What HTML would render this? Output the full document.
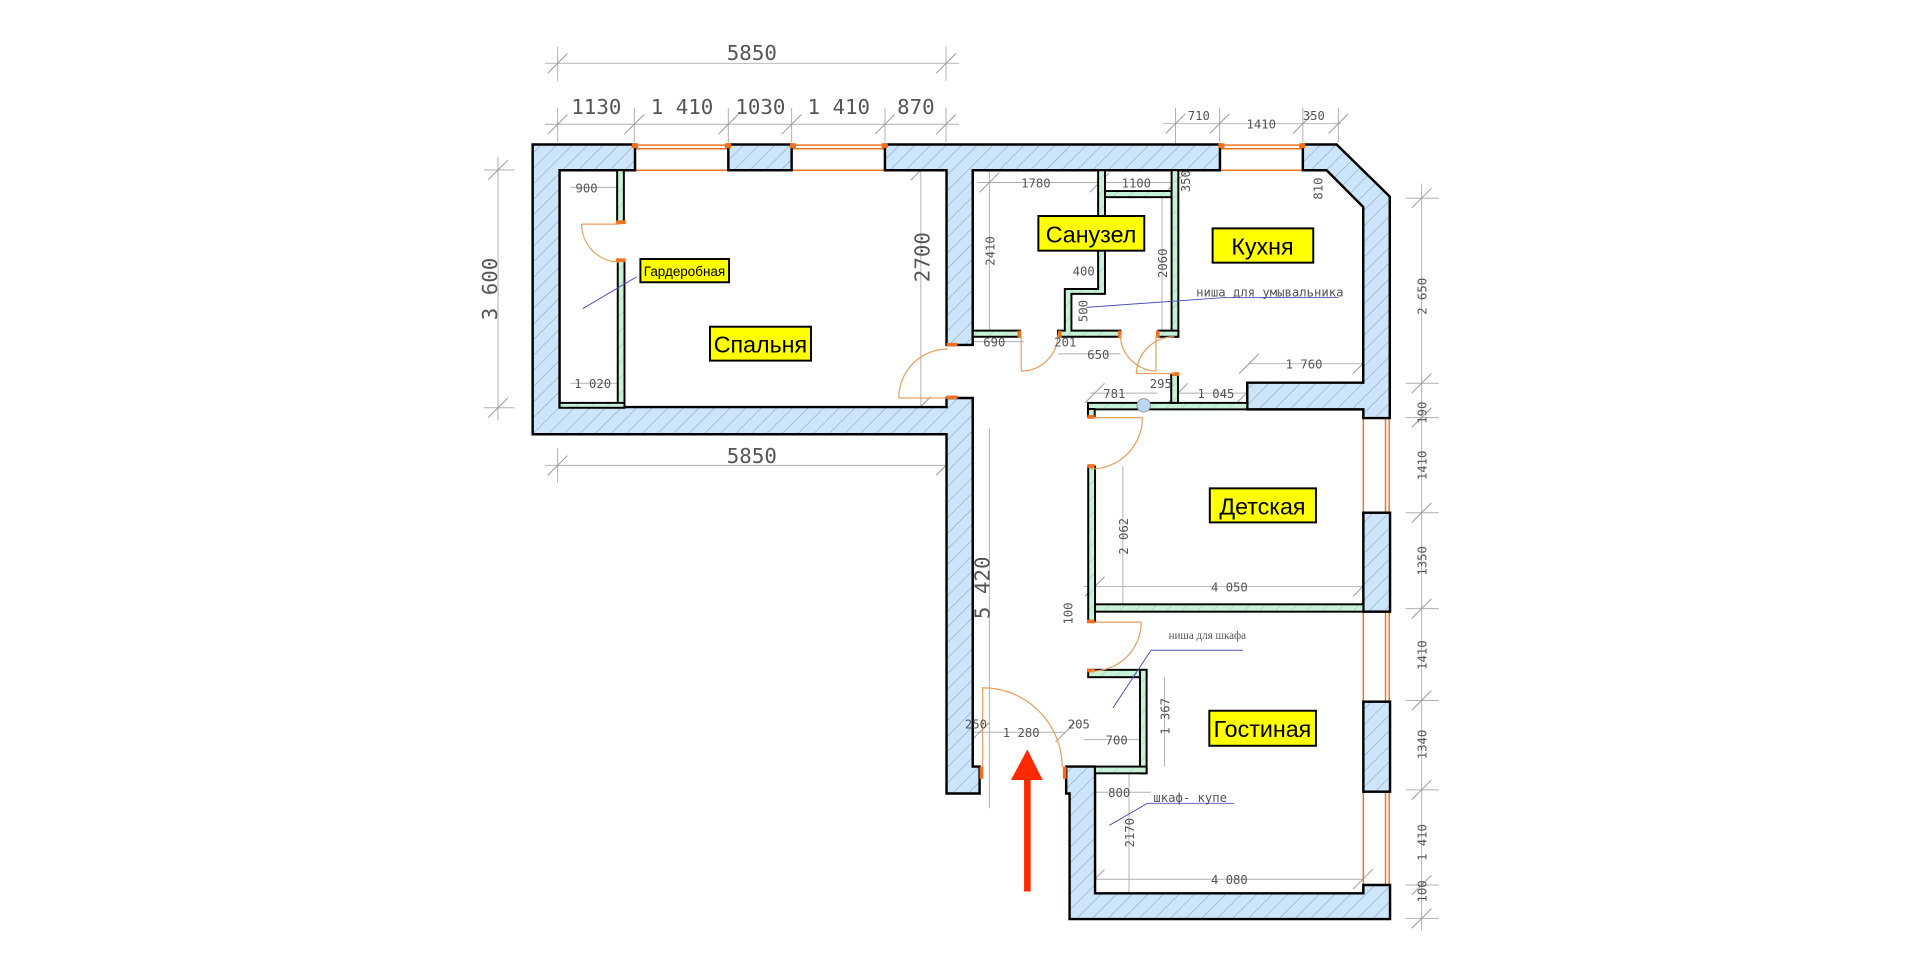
<!DOCTYPE html>
<html><head><meta charset="utf-8"><style>
html,body{margin:0;padding:0;background:#fff;width:1920px;height:963px;overflow:hidden}
svg{display:block}
.d{font-family:"DejaVu Sans Mono","Liberation Mono",monospace;fill:#555;font-size:10px}
.D{font-family:"DejaVu Sans Mono","Liberation Mono",monospace;fill:#555;font-size:17px}
.L{font-family:"Liberation Sans","DejaVu Sans",sans-serif;fill:#000}
.w{fill:url(#h);stroke:#000;stroke-width:2}
.g{fill:url(#hg);stroke:#000;stroke-width:1.6}
.o{stroke:#f07020;fill:none;stroke-width:1.2}
.a{stroke:#e8a060;fill:none;stroke-width:1}
.dl{stroke:#b0b0b0;stroke-width:0.8;fill:none}
.lb{fill:#ffff00;stroke:#000;stroke-width:1.6}
.ld{stroke:#5050c0;stroke-width:0.8;fill:none}
</style></head><body>
<svg width="1920" height="963" viewBox="0 0 1568 786.4" preserveAspectRatio="none" xmlns="http://www.w3.org/2000/svg">
<defs>
<pattern id="h" patternUnits="userSpaceOnUse" width="9" height="9" patternTransform="rotate(45)">
<rect width="9" height="9" fill="#cde5fa"/><line x1="0" y1="0" x2="0" y2="9" stroke="#7a93a8" stroke-width="0.7"/></pattern>
<pattern id="hg" patternUnits="userSpaceOnUse" width="9" height="9" patternTransform="rotate(45)">
<rect width="9" height="9" fill="#c8f2d8"/><line x1="0" y1="0" x2="0" y2="9" stroke="#8ab09a" stroke-width="0.5"/></pattern>
<path id="t" d="M-8,8 L8,-8" stroke="#999" stroke-width="0.8"/>
</defs>

<g class="dl">
<line x1="445" y1="51.7" x2="783" y2="51.7"/><line x1="455.4" y1="38" x2="455.4" y2="66"/><line x1="772.6" y1="38" x2="772.6" y2="66"/>
<line x1="445" y1="101.5" x2="783" y2="101.5"/>
<line x1="455.4" y1="88" x2="455.4" y2="116"/><line x1="518" y1="88" x2="518" y2="116"/><line x1="594.8" y1="88" x2="594.8" y2="116"/><line x1="646.5" y1="88" x2="646.5" y2="116"/><line x1="722.7" y1="88" x2="722.7" y2="116"/><line x1="772.6" y1="88" x2="772.6" y2="116"/>
<line x1="406.7" y1="128" x2="406.7" y2="343"/><line x1="395" y1="138.8" x2="420" y2="138.8"/><line x1="395" y1="333" x2="420" y2="333"/>
<line x1="445" y1="380" x2="783" y2="380"/><line x1="455.4" y1="366" x2="455.4" y2="394"/><line x1="772.6" y1="366" x2="772.6" y2="394"/>
<line x1="752" y1="128" x2="752" y2="343"/><line x1="740" y1="139" x2="765" y2="139"/><line x1="740" y1="332" x2="765" y2="332"/>
<line x1="808" y1="350" x2="808" y2="660"/>
<line x1="950" y1="101" x2="1095" y2="101"/><line x1="960" y1="88" x2="960" y2="140"/><line x1="996" y1="88" x2="996" y2="116"/><line x1="1064" y1="88" x2="1064" y2="116"/><line x1="1093" y1="88" x2="1093" y2="116"/>
<line x1="1161" y1="150" x2="1161" y2="760"/>
<line x1="1148" y1="161.8" x2="1175" y2="161.8"/><line x1="1148" y1="313" x2="1175" y2="313"/><line x1="1148" y1="341" x2="1175" y2="341"/><line x1="1148" y1="418.7" x2="1175" y2="418.7"/><line x1="1148" y1="497" x2="1175" y2="497"/><line x1="1148" y1="572" x2="1175" y2="572"/><line x1="1148" y1="645" x2="1175" y2="645"/><line x1="1148" y1="722.7" x2="1175" y2="722.7"/><line x1="1148" y1="750" x2="1175" y2="750"/>
<line x1="466" y1="153" x2="510" y2="153"/><line x1="466" y1="313" x2="510" y2="313"/>
<line x1="798" y1="149" x2="898" y2="149"/><line x1="902" y1="149" x2="960" y2="149"/>
<line x1="808" y1="139" x2="808" y2="275"/><line x1="949" y1="161" x2="949" y2="270"/>
<line x1="795" y1="279" x2="836" y2="279"/><line x1="864" y1="289" x2="915" y2="289"/>
<line x1="890" y1="321" x2="945" y2="321"/><line x1="962" y1="321" x2="1018" y2="321"/>
<line x1="1020" y1="297" x2="1113" y2="297"/>
<line x1="917" y1="381" x2="917" y2="497"/><line x1="885" y1="479" x2="1113" y2="479"/>
<line x1="951" y1="553" x2="951" y2="626"/><line x1="785" y1="598" x2="870" y2="598"/><line x1="885" y1="604" x2="935" y2="604"/>
<line x1="885" y1="647" x2="940" y2="647"/><line x1="922" y1="630" x2="922" y2="730"/><line x1="885" y1="718" x2="1113" y2="718"/>
</g>
<g>
<use href="#t" x="455.4" y="51.7"/><use href="#t" x="772.6" y="51.7"/>
<use href="#t" x="455.4" y="101.5"/><use href="#t" x="518" y="101.5"/><use href="#t" x="594.8" y="101.5"/><use href="#t" x="646.5" y="101.5"/><use href="#t" x="722.7" y="101.5"/><use href="#t" x="772.6" y="101.5"/>
<use href="#t" x="406.7" y="138.8"/><use href="#t" x="406.7" y="333"/>
<use href="#t" x="455.4" y="380"/><use href="#t" x="772.6" y="380"/>
<use href="#t" x="752" y="139"/><use href="#t" x="752" y="332"/>
<use href="#t" x="960" y="101"/><use href="#t" x="996" y="101"/><use href="#t" x="1064" y="101"/><use href="#t" x="1093" y="101"/>
<use href="#t" x="1161" y="161.8"/><use href="#t" x="1161" y="313"/><use href="#t" x="1161" y="341"/><use href="#t" x="1161" y="418.7"/><use href="#t" x="1161" y="497"/><use href="#t" x="1161" y="572"/><use href="#t" x="1161" y="645"/><use href="#t" x="1161" y="722.7"/><use href="#t" x="1161" y="750"/>
<use href="#t" x="808" y="149"/><use href="#t" x="898" y="149"/><use href="#t" x="960" y="149"/>
<use href="#t" x="1020" y="297"/><use href="#t" x="1113" y="297"/><use href="#t" x="894" y="479"/><use href="#t" x="1113" y="479"/>
<use href="#t" x="894" y="718"/><use href="#t" x="1113" y="718"/><use href="#t" x="800" y="598"/><use href="#t" x="870" y="598"/>
<use href="#t" x="894" y="321"/><use href="#t" x="1018" y="321"/><use href="#t" x="962" y="321"/>
</g>

<g class="o">
<line x1="518.6" y1="118.5" x2="594.8" y2="118.5"/><line x1="518.6" y1="121.5" x2="594.8" y2="121.5"/><line x1="518.6" y1="139" x2="594.8" y2="139"/>
<line x1="646.5" y1="118.5" x2="722.7" y2="118.5"/><line x1="646.5" y1="121.5" x2="722.7" y2="121.5"/><line x1="646.5" y1="139" x2="722.7" y2="139"/>
<line x1="996.3" y1="118.5" x2="1064" y2="118.5"/><line x1="996.3" y1="121.5" x2="1064" y2="121.5"/><line x1="996.3" y1="139" x2="1064" y2="139"/>
<line x1="1113.4" y1="341" x2="1113.4" y2="418.7"/><line x1="1131.5" y1="341" x2="1131.5" y2="418.7"/><line x1="1134.5" y1="341" x2="1134.5" y2="418.7"/>
<line x1="1113.4" y1="499.5" x2="1113.4" y2="573"/><line x1="1131.5" y1="499.5" x2="1131.5" y2="573"/><line x1="1134.5" y1="499.5" x2="1134.5" y2="573"/>
<line x1="1113.4" y1="646.5" x2="1113.4" y2="722.7"/><line x1="1131.5" y1="646.5" x2="1131.5" y2="722.7"/><line x1="1134.5" y1="646.5" x2="1134.5" y2="722.7"/>
</g>

<polygon class="w" points="435,118 518.6,118 518.6,139 457,139 457,332.4 773,332.4 773,325 794.4,325 794.4,626 800,626 800,648 773,648 773,354.6 435,354.6"/>
<rect class="w" x="594.8" y="118" width="51.7" height="21"/>
<polygon class="w" points="722.7,118 996.3,118 996.3,139 794.4,139 794.4,281.7 773,281.7 773,139 722.7,139"/>
<polygon class="w" points="1064,118 1091.6,118 1135,160.6 1135,341.4 1113.4,341.4 1113.4,334.3 1018.6,334.3 1018.6,312.5 1113.3,312.5 1113.3,169 1083.4,139 1064,139"/>
<rect class="w" x="1113.4" y="418.7" width="21.8" height="80.8"/>
<rect class="w" x="1113.4" y="573" width="21.8" height="73.5"/>
<polygon class="w" points="870.7,626 894.3,626 894.3,729.5 1113.4,729.5 1113.4,722.7 1135.2,722.7 1135.2,750.5 873.5,750.5 873.5,648 870.7,648"/>

<rect class="g" x="504" y="139" width="5.5" height="42"/>
<rect class="g" x="504.5" y="212" width="5.5" height="120"/>
<rect class="g" x="457" y="329" width="53" height="4"/>
<rect class="g" x="794.4" y="270" width="38.6" height="5"/>
<polygon class="g" points="896.8,139 902.4,139 902.4,240 875,240 875,270 915,270 915,275 864,275 864,270 869.6,270 869.6,236 896.8,236"/>
<rect class="g" x="902.4" y="156" width="54.4" height="5"/>
<rect class="g" x="956.8" y="139" width="5.5" height="136"/>
<rect class="g" x="946" y="270" width="16.3" height="5"/>
<rect class="g" x="888.5" y="329" width="130.1" height="5.3"/>
<rect class="g" x="888.5" y="334" width="5.5" height="6"/>
<rect class="g" x="956.5" y="306" width="5.5" height="23"/>
<circle cx="934" cy="331" r="5.5" fill="#b8d8f0" stroke="#888" stroke-width="0.6"/>
<rect class="g" x="888.7" y="381" width="5.6" height="126.7"/>
<rect class="g" x="894.3" y="493.5" width="219.1" height="6"/>
<rect class="g" x="888.7" y="547" width="47.7" height="6"/>
<rect class="g" x="931" y="547" width="5.4" height="84.5"/>
<rect class="g" x="894.3" y="626" width="42.1" height="5.5"/>

<g fill="#f07020">
<rect x="503" y="180" width="8" height="3"/><rect x="503" y="211" width="8" height="3"/>
<rect x="773" y="280" width="9" height="3"/><rect x="773" y="323" width="9" height="3"/>
<rect x="831" y="270" width="3" height="6"/><rect x="864" y="270" width="3" height="6"/>
<rect x="913" y="270" width="3" height="6"/><rect x="944" y="270" width="3" height="6"/>
<rect x="957" y="304" width="6" height="3"/><rect x="888" y="339" width="6" height="3"/>
<rect x="888" y="379" width="6" height="3"/><rect x="888" y="506" width="6" height="3"/><rect x="888" y="546" width="6" height="3"/>
<rect x="800" y="626" width="3" height="10"/><rect x="868" y="626" width="3" height="10"/>
<rect x="516" y="117" width="5" height="4"/><rect x="592" y="117" width="5" height="4"/><rect x="645" y="117" width="5" height="4"/><rect x="720" y="117" width="5" height="4"/>
<rect x="995" y="117" width="5" height="4"/><rect x="1061" y="117" width="5" height="4"/>
</g>
<g class="a">
<path d="M475,183 L506,183 M475,183 A31,31 0 0 0 506,214"/>
<path d="M734,325 L773,325 M734,325 A40,40 0 0 1 774,285"/>
<path d="M834,275 L834,303 A30,30 0 0 0 864,273"/>
<path d="M915,273 A30,30 0 0 0 944,303 L944,275"/>
<path d="M928,305 L959,305 M928,305 A31,31 0 0 1 959,275"/>
<path d="M933,341 L894,341 M933,341 A42,42 0 0 1 891,383"/>
<path d="M932,508 L894,508 M932,508 A40,40 0 0 1 891,548"/>
<path d="M802.5,626 L802.5,561.6 A65,65 0 0 1 867.5,626"/>
</g>

<g class="ld">
<path d="M476,252 L520,226"/>
<path d="M887,251 L1000,243 L1093,243"/>
<path d="M909,578 L940,531 L1015,531"/>
<path d="M906,674 L937,656 L1008,656"/>
</g>

<rect x="836.3" y="635" width="5.4" height="93" fill="#ff2a00"/>
<polygon points="825.6,637 839,612 851.5,637" fill="#ff2a00"/>

<rect class="lb" x="523" y="211.5" width="72.4" height="19"/><text class="L" x="559" y="225.5" font-size="11" text-anchor="middle">Гардеробная</text>
<rect class="lb" x="579.8" y="266.8" width="82.5" height="27.7"/><text class="L" x="621" y="288" font-size="19" text-anchor="middle">Спальня</text>
<rect class="lb" x="848" y="176.4" width="86.5" height="28.3"/><text class="L" x="891" y="198" font-size="19" text-anchor="middle">Санузел</text>
<rect class="lb" x="990.3" y="186.5" width="82.2" height="28"/><text class="L" x="1031" y="208" font-size="19" text-anchor="middle">Кухня</text>
<rect class="lb" x="988" y="398.8" width="86.7" height="27.8"/><text class="L" x="1031" y="420" font-size="19" text-anchor="middle">Детская</text>
<rect class="lb" x="987.6" y="580.4" width="87.1" height="28.6"/><text class="L" x="1031" y="602" font-size="19" text-anchor="middle">Гостиная</text>

<text class="D" x="614" y="49" text-anchor="middle">5850</text>
<text class="D" x="487" y="93" text-anchor="middle">1130</text>
<text class="D" x="557" y="93" text-anchor="middle">1 410</text>
<text class="D" x="621" y="93" text-anchor="middle">1030</text>
<text class="D" x="685" y="93" text-anchor="middle">1 410</text>
<text class="D" x="748" y="93" text-anchor="middle">870</text>
<text class="D" x="614" y="378" text-anchor="middle">5850</text>
<text class="D" transform="translate(406,236) rotate(-90)" text-anchor="middle">3 600</text>
<text class="D" transform="translate(759,210) rotate(-90)" text-anchor="middle">2700</text>
<text class="D" transform="translate(808,480) rotate(-90)" text-anchor="middle">5 420</text>
<text class="d" x="479" y="157" text-anchor="middle">900</text>
<text class="d" x="484" y="317" text-anchor="middle">1 020</text>
<text class="d" x="846" y="153" text-anchor="middle">1780</text>
<text class="d" x="928" y="153" text-anchor="middle">1100</text>
<text class="d" transform="translate(972,148) rotate(-90)" text-anchor="middle">350</text>
<text class="d" transform="translate(812,205) rotate(-90)" text-anchor="middle">2410</text>
<text class="d" transform="translate(953,215) rotate(-90)" text-anchor="middle">2060</text>
<text class="d" x="885" y="225" text-anchor="middle">400</text>
<text class="d" transform="translate(888,254) rotate(-90)" text-anchor="middle">500</text>
<text class="d" x="870" y="283" text-anchor="middle">201</text>
<text class="d" x="812" y="283" text-anchor="middle">690</text>
<text class="d" x="897" y="293" text-anchor="middle">650</text>
<text class="d" x="1037" y="242" text-anchor="middle" font-size="9.5">ниша для умывальника</text>
<text class="d" x="910" y="325" text-anchor="middle">781</text>
<text class="d" x="948" y="317" text-anchor="middle">295</text>
<text class="d" x="993" y="325" text-anchor="middle">1 045</text>
<text class="d" x="1065" y="301" text-anchor="middle">1 760</text>
<text class="d" transform="translate(1080,154) rotate(-90)" text-anchor="middle">810</text>
<text class="d" x="979" y="98" text-anchor="middle">710</text>
<text class="d" x="1030" y="105" text-anchor="middle">1410</text>
<text class="d" x="1073" y="98" text-anchor="middle">350</text>
<text class="d" transform="translate(921,438) rotate(-90)" text-anchor="middle">2 062</text>
<text class="d" x="1004" y="483" text-anchor="middle">4 050</text>
<text class="d" transform="translate(876,501) rotate(-90)" text-anchor="middle">100</text>
<text x="986" y="522" text-anchor="middle" font-family="Liberation Serif,serif" font-size="9" fill="#555">ниша для шкафа</text>
<text class="d" transform="translate(955,585) rotate(-90)" text-anchor="middle">1 367</text>
<text class="d" x="797" y="595" text-anchor="middle">250</text>
<text class="d" x="834" y="602" text-anchor="middle">1 280</text>
<text class="d" x="881" y="595" text-anchor="middle">205</text>
<text class="d" x="912" y="608" text-anchor="middle">700</text>
<text class="d" x="914" y="651" text-anchor="middle">800</text>
<text class="d" x="972" y="655" text-anchor="middle">шкаф- купе</text>
<text class="d" transform="translate(926,680) rotate(-90)" text-anchor="middle">2170</text>
<text class="d" x="1004" y="722" text-anchor="middle">4 080</text>
<text class="d" transform="translate(1165,242) rotate(-90)" text-anchor="middle">2 650</text>
<text class="d" transform="translate(1165,337) rotate(-90)" text-anchor="middle">190</text>
<text class="d" transform="translate(1165,380) rotate(-90)" text-anchor="middle">1410</text>
<text class="d" transform="translate(1165,458) rotate(-90)" text-anchor="middle">1350</text>
<text class="d" transform="translate(1165,535) rotate(-90)" text-anchor="middle">1410</text>
<text class="d" transform="translate(1165,608) rotate(-90)" text-anchor="middle">1340</text>
<text class="d" transform="translate(1165,688) rotate(-90)" text-anchor="middle">1 410</text>
<text class="d" transform="translate(1165,728) rotate(-90)" text-anchor="middle">100</text>
</svg>
</body></html>
